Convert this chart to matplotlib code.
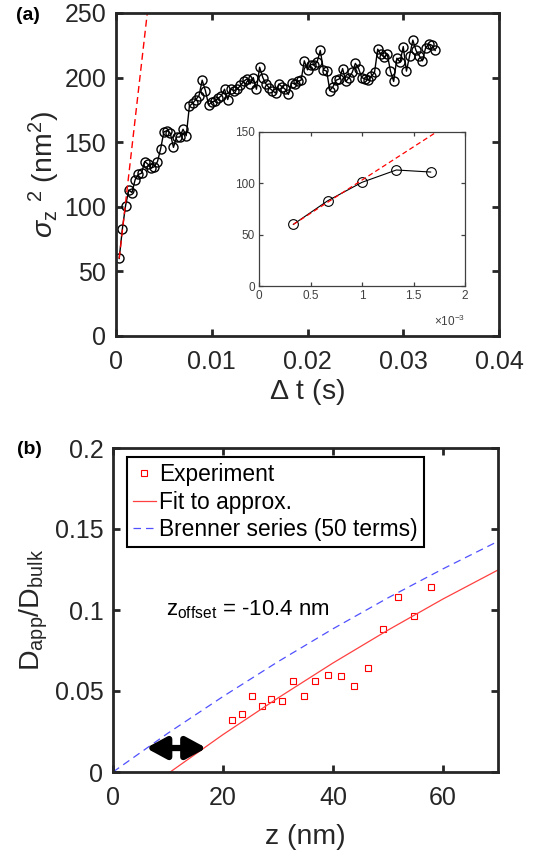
import numpy as np
import matplotlib
matplotlib.use("Agg")
import matplotlib.pyplot as plt

plt.rcParams['font.family'] = ['Liberation Sans', 'DejaVu Sans']
plt.rcParams['mathtext.fontset'] = 'custom'
plt.rcParams['mathtext.rm'] = 'Liberation Sans'
plt.rcParams['mathtext.it'] = 'Liberation Sans:italic'
plt.rcParams['mathtext.bf'] = 'Liberation Sans:bold'

# ---------------- Panel (a) data ----------------
dt_step = 1.0 / 3000.0
sigma2 = [60, 83, 101, 113, 111, 121, 125, 126, 135, 133,
          130, 131, 135, 145, 158, 159, 157, 146, 154, 154,
          160, 155, 178, 180, 183, 186, 198, 190, 179, 181,
          182, 184, 186, 191, 183, 191, 190, 191, 194, 197,
          199, 195, 200, 191, 208, 200, 195, 192, 190, 188,
          195, 193, 191, 187, 196, 195, 197, 198, 213, 206,
          210, 210, 212, 221, 206, 205, 190, 193, 198, 199,
          207, 197, 200, 204, 211, 207, 200, 199, 198, 201,
          204, 222, 218, 216, 218, 205, 197, 215, 212, 224,
          205, 217, 229, 221, 217, 213, 223, 226, 225, 221]
lag_index = np.arange(1, len(sigma2) + 1)
fit_a_t = [1.0 / 3000.0, 0.0035]
fit_a_y = [60.0, 265.0]

a_xticks = [0, 0.01, 0.02, 0.03, 0.04]
a_xticklabels = ['0', '0.01', '0.02', '0.03', '0.04']
a_yticks = [0, 50, 100, 150, 200, 250]
inset_xticks = [0, 0.0005, 0.001, 0.0015, 0.002]
inset_xticklabels = ['0', '0.5', '1', '1.5', '2']
inset_yticks = [0, 50, 100, 150]
n_inset = 5

# ---------------- Panel (b) data ----------------
z_exp = [21.7, 23.4, 25.2, 27.0, 28.8, 30.7, 32.7, 34.7, 36.8, 39.0,
         41.5, 43.9, 46.3, 49.0, 51.8, 54.8, 57.9]
d_exp = [0.032, 0.036, 0.047, 0.041, 0.045, 0.044, 0.056, 0.047, 0.056, 0.060,
         0.059, 0.053, 0.064, 0.088, 0.108, 0.096, 0.114]
z_brenner = [0, 10, 20, 30, 40, 50, 60, 70]
d_brenner = [0.0, 0.0240, 0.0466, 0.0681, 0.0884, 0.1075, 0.1254, 0.1424]
z_fit = [10.4, 20, 30, 40, 50, 60, 70]
d_fit = [0.0, 0.0231, 0.0457, 0.0673, 0.0876, 0.1068, 0.1247]
arrow_z = [6.0, 17.0]
arrow_d = 0.0148

b_xticks = [0, 20, 40, 60]
b_yticks = [0, 0.05, 0.1, 0.15, 0.2]
b_yticklabels = ['0', '0.05', '0.1', '0.15', '0.2']

tick_color = '#262626'
TICK_FS = 18
LABEL_FS = 20.5

fig = plt.figure(figsize=(5.55, 8.52), dpi=100)

def style_axes(ax, lw=2.0, fs=TICK_FS, length=5, color=tick_color, xpad=10, ypad=7):
    for s in ax.spines.values():
        s.set_linewidth(lw)
        s.set_color(color)
    ax.tick_params(direction='in', top=True, right=True, length=length,
                   width=lw, labelsize=fs, colors=color)
    ax.tick_params(axis='x', pad=xpad)
    ax.tick_params(axis='y', pad=ypad)

# ---------- (a) ----------
axa = fig.add_axes([116/555, 1-336/852, 383/555, 323/852])
t = lag_index * dt_step
axa.plot(t, sigma2, '-', color='k', lw=1.0, marker='o', ms=6.5,
         mfc='none', mec='k', mew=1.0)
axa.plot(fit_a_t, fit_a_y, '--', color='red', lw=1.0, dashes=(5, 3))
axa.set_xlim(0, 0.04)
axa.set_ylim(0, 250)
axa.set_xticks(a_xticks)
axa.set_xticklabels(a_xticklabels)
axa.set_yticks(a_yticks)
style_axes(axa)
axa.set_xlabel(r'$\Delta$ t (s)', fontsize=LABEL_FS, color=tick_color, labelpad=2)
axa.set_ylabel(r'$\sigma_\mathregular{z}\ {}^\mathregular{2}$ (nm$^\mathregular{2}$)',
               fontsize=LABEL_FS, color=tick_color, labelpad=2)
fig.text(16/555, 1-15/852, '(a)', fontsize=14, fontweight='bold', va='center', ha='left')

# inset
axi = fig.add_axes([259/555, 1-286/852, 206/555, 154/852])
axi.plot(t[:n_inset], sigma2[:n_inset], '-', color='k', lw=0.8, marker='o',
         ms=7, mfc='none', mec='k', mew=0.8)
axi.plot(fit_a_t, fit_a_y, '--', color='red', lw=0.9, dashes=(4, 2.5))
axi.set_xlim(0, 0.002)
axi.set_ylim(0, 150)
axi.set_xticks(inset_xticks)
axi.set_xticklabels(inset_xticklabels)
axi.set_yticks(inset_yticks)
style_axes(axi, lw=0.9, fs=8.5, length=3, color='#404040', xpad=3, ypad=3)
axi.text(1.0, -0.23, r'$\times$10$^{-3}$', transform=axi.transAxes,
         ha='right', va='center', fontsize=8.5, color='#404040')

# ---------- (b) ----------
axb = fig.add_axes([113/555, 1-772/852, 385/555, 324/852])
axb.plot(z_exp, d_exp, 's', ls='none', color='red', ms=4.5, mfc='none',
         mec='red', mew=0.8, label='Experiment')
axb.plot(z_fit, d_fit, '-', color='#ff4040', lw=0.9, label='Fit to approx.')
axb.plot(z_brenner, d_brenner, '--', color='#5050ff', lw=0.9, dashes=(6, 4),
         label='Brenner series (50 terms)')
axb.annotate('', xy=(arrow_z[0], arrow_d), xytext=(arrow_z[1], arrow_d),
             arrowprops=dict(arrowstyle='<|-|>,head_length=1.2,head_width=0.65',
                             lw=4.5, color='k', shrinkA=0, shrinkB=0,
                             mutation_scale=10))
axb.set_xlim(0, 70)
axb.set_ylim(0, 0.2)
axb.set_xticks(b_xticks)
axb.set_yticks(b_yticks)
axb.set_yticklabels(b_yticklabels)
style_axes(axb)
axb.set_xlabel('z (nm)', fontsize=LABEL_FS, color=tick_color, labelpad=10)
axb.set_ylabel(r'D$_\mathregular{app}$/D$_\mathregular{bulk}$', fontsize=LABEL_FS,
               color=tick_color, labelpad=3)
axb.text(9.6, 0.1, r'z$_\mathregular{offset}$ = -10.4 nm', fontsize=16,
         ha='left', va='center', color='k')
leg = axb.legend(loc='upper left', bbox_to_anchor=(0.036, 0.972),
                 borderaxespad=0, fontsize=16.4, handlelength=1.0,
                 handletextpad=0.15, labelspacing=0.2, borderpad=0.27,
                 fancybox=False, framealpha=1, edgecolor='k')
leg.get_frame().set_linewidth(1.5)
fig.text(17/555, 1-449/852, '(b)', fontsize=14, fontweight='bold', va='center', ha='left')

fig.savefig('out.png', dpi=100)
